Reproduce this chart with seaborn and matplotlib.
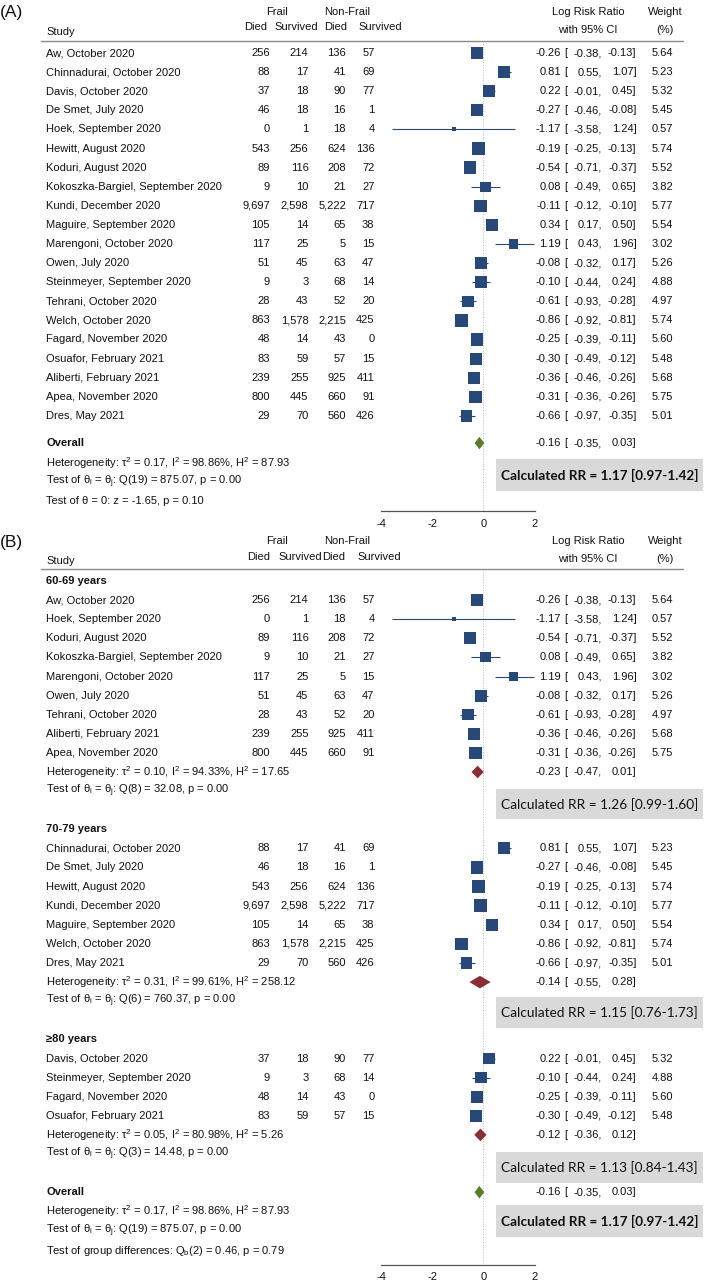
import numpy as np
import pandas as pd
import matplotlib
matplotlib.use('Agg')
import matplotlib.pyplot as plt
from matplotlib.patches import Rectangle
import seaborn as sns

# ---- data ----
studies = ['Aw, October 2020', 'Chinnadurai, October 2020', 'Davis, October 2020',
           'De Smet, July 2020', 'Hoek, September 2020', 'Hewitt, August 2020',
           'Koduri, August 2020', 'Kokoszka-Bargiel, September 2020', 'Kundi, December 2020',
           'Maguire, September 2020', 'Marengoni, October 2020', 'Owen, July 2020',
           'Steinmeyer, September 2020', 'Tehrani, October 2020', 'Welch, October 2020',
           'Fagard, November 2020', 'Osuafor, February 2021', 'Aliberti, February 2021',
           'Apea, November 2020', 'Dres, May 2021']
frail_died = [256, 88, 37, 46, 0, 543, 89, 9, 9697, 105, 117, 51, 9, 28, 863, 48, 83, 239, 800, 29]
frail_surv = [214, 17, 18, 18, 1, 256, 116, 10, 2598, 14, 25, 45, 3, 43, 1578, 14, 59, 255, 445, 70]
nonfrail_died = [136, 41, 90, 16, 18, 624, 208, 21, 5222, 65, 5, 63, 68, 52, 2215, 43, 57, 925, 660, 560]
nonfrail_surv = [57, 69, 77, 1, 4, 136, 72, 27, 717, 38, 15, 47, 14, 20, 425, 0, 15, 411, 91, 426]
log_rr = [-0.26, 0.81, 0.22, -0.27, -1.17, -0.19, -0.54, 0.08, -0.11, 0.34,
          1.19, -0.08, -0.10, -0.61, -0.86, -0.25, -0.30, -0.36, -0.31, -0.66]
ci_lo = [-0.38, 0.55, -0.01, -0.46, -3.58, -0.25, -0.71, -0.49, -0.12, 0.17,
         0.43, -0.32, -0.44, -0.93, -0.92, -0.39, -0.49, -0.46, -0.36, -0.97]
ci_hi = [-0.13, 1.07, 0.45, -0.08, 1.24, -0.13, -0.37, 0.65, -0.10, 0.50,
         1.96, 0.17, 0.24, -0.28, -0.81, -0.11, -0.12, -0.26, -0.26, -0.35]
weight = [5.64, 5.23, 5.32, 5.45, 0.57, 5.74, 5.52, 3.82, 5.77, 5.54,
          3.02, 5.26, 4.88, 4.97, 5.74, 5.60, 5.48, 5.68, 5.75, 5.01]

# subgroups (indices into the study lists)
group_names = ['60-69 years', '70-79 years', '\u226580 years']
group_idx = [[0, 4, 6, 7, 10, 11, 13, 17, 18],
             [1, 3, 5, 8, 9, 14, 19],
             [2, 12, 15, 16]]
group_est = [-0.23, -0.14, -0.12]
group_lo = [-0.47, -0.55, -0.36]
group_hi = [0.01, 0.28, 0.12]
group_het = [(0.10, 94.33, 17.65), (0.31, 99.61, 258.12), (0.05, 80.98, 5.26)]
group_q = [(8, 32.08), (6, 760.37), (3, 14.48)]
group_rr = ['1.26 [0.99-1.60]', '1.15 [0.76-1.73]', '1.13 [0.84-1.43]']

overall = (-0.16, -0.35, 0.03)
overall_het = (0.17, 98.86, 87.93)
overall_q = (19, 875.07)
overall_z = (-1.65, 0.10)
overall_rr = '1.17 [0.97-1.42]'
group_diff = (2, 0.46, 0.79)

# ---- layout ----
W, H = 709, 1283
NAVY = '#26497a'
RED = '#8c2d36'
GREEN = '#5b7b2c'
BOXC = '#d9d9d9'
ZERO_PX = 483.5
PX_PER_UNIT = 25.6
ROW_PX = 19.1
FS = 8

sns.set_style('white')
plt.rcParams['font.family'] = ['Liberation Sans', 'DejaVu Sans']
plt.rcParams['mathtext.default'] = 'regular'
plt.rcParams['axes.unicode_minus'] = False


def fx(px):
    return px / W


def make_axes(fig, top_px, bottom_px, row0_px):
    ax = fig.add_axes([0, 1 - bottom_px / H, 1, (bottom_px - top_px) / H])
    ax._lims = ((-ZERO_PX / PX_PER_UNIT, (W - ZERO_PX) / PX_PER_UNIT),
                ((bottom_px - row0_px) / ROW_PX, (top_px - row0_px) / ROW_PX))
    return ax


def txt(ax, x, r, s, ha='left', **kw):
    kw.setdefault('fontsize', FS)
    ax.text(fx(x), r, s, transform=ax.get_yaxis_transform(), ha=ha, va='center',
            color='#111111', **kw)


def ci_text(ax, r, est, lo, hi):
    txt(ax, 561, r, '%.2f' % est, ha='right')
    txt(ax, 564, r, '[')
    txt(ax, 602, r, '%.2f,' % lo, ha='right')
    txt(ax, 636.5, r, '%.2f]' % hi, ha='right')


def header(ax, r_top, r_mid, r_study, r_ci, r_line, cols, label):
    txt(ax, 0, r_top + 0.05, label, fontsize=12.5)
    txt(ax, 277, r_top, 'Frail', ha='center')
    txt(ax, 347, r_top, 'Non-Frail', ha='center')
    for x, s in zip(cols, ['Died', 'Survived', 'Died', 'Survived']):
        txt(ax, x, r_mid, s, ha='center')
    txt(ax, 46.5, r_study, 'Study')
    txt(ax, 588, r_top, 'Log Risk Ratio', ha='center')
    txt(ax, 588, r_ci, 'with 95% CI', ha='center')
    txt(ax, 665, r_top, 'Weight', ha='center')
    txt(ax, 665, r_ci, '(%)', ha='center')
    ax.plot([fx(41), fx(683)], [r_line, r_line], transform=ax.get_yaxis_transform(),
            color='#8a8a8a', lw=1.0)


def study_rows(ax, idx, rows):
    df = pd.DataFrame({'log_rr': [log_rr[i] for i in idx],
                       'lo': [ci_lo[i] for i in idx],
                       'hi': [ci_hi[i] for i in idx],
                       'weight': [weight[i] for i in idx],
                       'row': rows})
    ax.hlines(df['row'], df['lo'], df['hi'], color=NAVY, lw=0.8, zorder=2)
    sns.scatterplot(data=df, x='log_rr', y='row', size='weight',
                    sizes=(14 * 0.57, 14 * 5.77), size_norm=(0.57, 5.77),
                    marker='s', color=NAVY, linewidth=0, legend=False, ax=ax, zorder=3)
    for i, r in zip(idx, rows):
        txt(ax, 46.5, r, studies[i])
        for x, v in zip([270, 308.5, 346, 374.5],
                        [frail_died[i], frail_surv[i], nonfrail_died[i], nonfrail_surv[i]]):
            txt(ax, x, r, '{:,}'.format(v), ha='right')
        ci_text(ax, r, log_rr[i], ci_lo[i], ci_hi[i])
        txt(ax, 673, r, '%.2f' % weight[i], ha='right')


def diamond(ax, r, est, lo, hi, color):
    ax.fill([lo, est, hi, est], [r, r - 0.33, r, r + 0.33], color=color, lw=0, zorder=3)


def rr_box(ax, r0, r1, s, bold=False):
    tr = ax.get_yaxis_transform()
    ax.add_patch(Rectangle((fx(496), r0), fx(703) - fx(496), r1 - r0, transform=tr,
                           facecolor=BOXC, edgecolor='none', zorder=1))
    ax.text(fx(599.5), (r0 + r1) / 2, 'Calculated RR = ' + s, transform=tr,
            ha='center', va='center', fontsize=9.8, family='Lato',
            fontweight='bold' if bold else 'normal', color='#111111', zorder=2)


def het_text(ax, r, het):
    txt(ax, 46.5, r, r'Heterogeneity: $\tau^2$ = %.2f, $I^2$ = %.2f%%, $H^2$ = %.2f' % het)


def q_text(ax, r, q):
    txt(ax, 46.5, r, r'Test of $\theta_i$ = $\theta_j$: Q(%d) = %.2f, p = 0.00' % q)


def finish_axis(ax, top_row, axis_row):
    ax.set_xlim(*ax._lims[0])
    ax.set_ylim(*ax._lims[1])
    ax.vlines(0, top_row, axis_row, colors='#b5b5b5', lw=0.7, linestyles=':', zorder=0)
    for s in ['top', 'left', 'right']:
        ax.spines[s].set_visible(False)
    ax.spines['bottom'].set_position(('data', axis_row))
    ax.spines['bottom'].set_bounds(-4, 2)
    ax.spines['bottom'].set_color('#555555')
    ax.spines['bottom'].set_linewidth(0.9)
    ax.set_xticks([-4, -2, 0, 2])
    ax.set_xticklabels(['-4', '-2', '0', '2'])
    ax.set_yticks([])
    ax.set_xlabel('')
    ax.set_ylabel('')
    ax.tick_params(axis='x', direction='out', length=3, width=0.9, pad=2.5,
                   labelsize=FS, colors='#555555', labelcolor='#111111')
    ax.patch.set_alpha(0)


fig = plt.figure(figsize=(W / 100, H / 100), dpi=100)

# === (A) ===
axA = make_axes(fig, 0, 540, 53)
header(axA, -2.15, -1.36, -1.10, -1.2, -0.63, [256, 296.5, 336, 380], '(A)')
study_rows(axA, list(range(len(studies))), list(range(len(studies))))
txt(axA, 46.5, 20.42, 'Overall', fontweight='bold')
diamond(axA, 20.42, *overall, GREEN)
ci_text(axA, 20.42, *overall)
het_text(axA, 21.47, overall_het)
q_text(axA, 22.46, overall_q)
txt(axA, 46.5, 23.46, 'Test of \u03b8 = 0: z = %.2f, p = %.2f' % overall_z)
rr_box(axA, 21.26, 22.93, overall_rr, bold=True)
finish_axis(axA, -0.63, 23.98)

# === (B) ===
axB = make_axes(fig, 540, H, 581)
header(axB, -2.09, -1.26, -1.05, -1.15, -0.63, [259, 300, 334, 379], '(B)')
box_rows = [(10.9, 12.46), (21.8, 23.4), (29.9, 31.5)]
r = 0
for g in range(3):
    txt(axB, 46.5, r, group_names[g], fontweight='bold')
    rows = list(range(r + 1, r + 1 + len(group_idx[g])))
    study_rows(axB, group_idx[g], rows)
    r = rows[-1] + 1
    het_text(axB, r, group_het[g])
    diamond(axB, r, group_est[g], group_lo[g], group_hi[g], RED)
    ci_text(axB, r, group_est[g], group_lo[g], group_hi[g])
    q_text(axB, r + 1, group_q[g])
    rr_box(axB, box_rows[g][0], box_rows[g][1], group_rr[g])
    r = r + 3
txt(axB, 46.5, r, 'Overall', fontweight='bold')
diamond(axB, r, *overall, GREEN)
ci_text(axB, r, *overall)
het_text(axB, r + 1, overall_het)
q_text(axB, r + 2, overall_q)
rr_box(axB, 32.67, 34.35, overall_rr, bold=True)
txt(axB, 46.5, 35.08, r'Test of group differences: $Q_b$(%d) = %.2f, p = %.2f' % group_diff)
finish_axis(axB, -0.63, 35.8)

fig.savefig('out.png', dpi=100)
